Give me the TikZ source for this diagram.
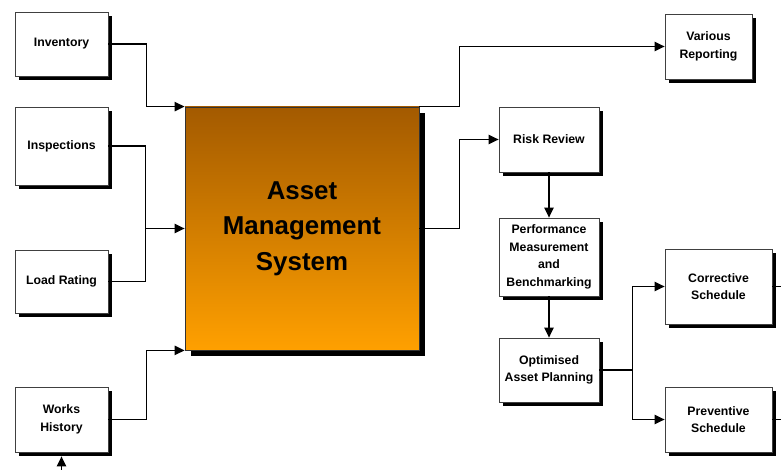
\documentclass[tikz,border=0pt]{standalone}
\usepackage{fontspec}
\setmainfont{Liberation Sans}
\usetikzlibrary{arrows.meta,positioning,shadows}
\definecolor{amsTop}{RGB}{163,90,0}
\definecolor{amsBot}{RGB}{255,160,0}
\tikzset{
  blk/.style={draw=black!75, line width=0.6pt, fill=white, align=center, inner sep=1pt,
    font=\bfseries\fontsize{9.2}{13.2}\selectfont,
    drop shadow={shadow xshift=3pt, shadow yshift=-3pt, opacity=1, fill=black}},
  ln/.style={line width=1pt},
  arr/.style={ln, -{Triangle[length=7.5pt,width=7pt]}}
}
\begin{document}
\begin{tikzpicture}[x=0.75pt,y=-0.75pt]
  \useasboundingbox (0,0) rectangle (781,470);
  % inputs
  \node[blk, minimum width=69.75pt, minimum height=48pt] (inv) at (61.5,44) {Inventory};
  \node[blk, minimum width=69.75pt, minimum height=58.5pt] (insp) at (61.5,146) {Inspections};
  \node[blk, minimum width=69.75pt, minimum height=47.25pt] (load) at (61.5,281.5) {Load Rating};
  \node[blk, minimum width=69.75pt, minimum height=48.75pt] (works) at (61.5,419.5) {Works\\History};
  % core
  \node[draw=black!80, line width=0.6pt, top color=amsTop, bottom color=amsBot,
    minimum width=175.5pt, minimum height=182.25pt, align=center,
    font=\bfseries\fontsize{19.4}{26.6}\selectfont,
    drop shadow={shadow xshift=4.5pt, shadow yshift=-4.5pt, opacity=1, fill=black}]
    (ams) at (302,228.5) {Asset\\Management\\System};
  % outputs
  \node[blk, minimum width=65.25pt, minimum height=48.75pt] (vrep) at (708.5,46.5) {Various\\Reporting};
  \node[blk, minimum width=75pt, minimum height=48.75pt] (risk) at (549,139.5) {Risk Review};
  \node[blk, minimum width=75pt, minimum height=58.5pt] (perf) at (549,257) {Performance\\Measurement\\and\\Benchmarking};
  \node[blk, minimum width=75pt, minimum height=48pt] (opt) at (549,370) {Optimised\\Asset Planning};
  \node[blk, minimum width=80.25pt, minimum height=56.25pt] (corr) at (718.5,286.5) {Corrective\\Schedule};
  \node[blk, minimum width=80.25pt, minimum height=48.75pt] (prev) at (718.5,419.5) {Preventive\\Schedule};

  \draw[arr] (inv.east) -- ++(38,0) |- (ams.north west);
  \path (ams.west) ++(-39,0) coordinate (jin);
  \draw[ln] (insp.east) -| (jin);
  \draw[ln] (load.east) -| (jin);
  \draw[arr] (jin) -- (ams.west);
  \draw[arr] (works.east) -- ++(38,0) |- (ams.south west);
  \coordinate (win) at (61.5,470);
  \draw[arr, shorten >=3pt] (win) -- (works.south);

  \draw[arr] (ams.north east) -- ++(40,0) |- (vrep.west);
  \draw[arr] (ams.east) -- ++(40,0) |- (risk.west);
  \draw[arr] (risk) -- (perf);
  \draw[arr] (perf) -- (opt);
  \path (opt.east) ++(33,0) coordinate (jout);
  \draw[ln] (opt.east) -- (jout);
  \draw[arr] (jout) |- (corr.west);
  \draw[arr] (jout) |- (prev.west);
  \coordinate (cout) at (781,286.5);
  \coordinate (pout) at (781,419.5);
  \draw[ln] (corr.east) -- (cout);
  \draw[ln] (prev.east) -- (pout);
\end{tikzpicture}
\end{document}
